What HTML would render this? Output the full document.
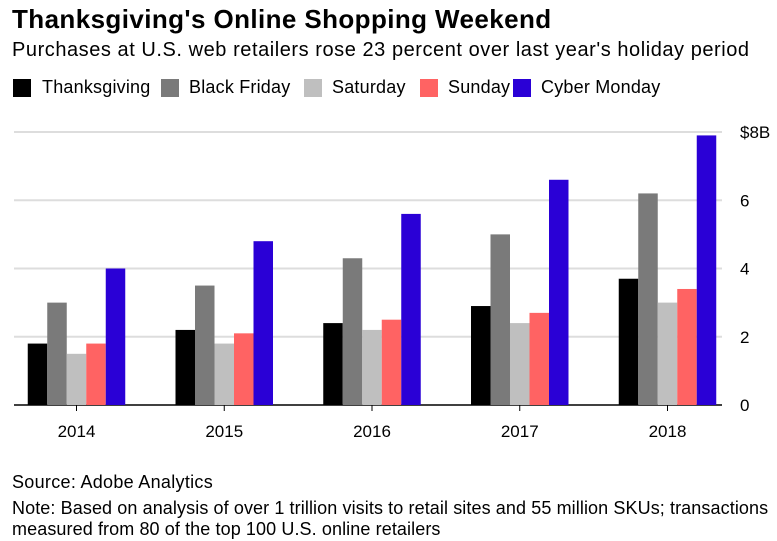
<!DOCTYPE html>
<html><head><meta charset="utf-8"><style>
body{margin:0;width:777px;height:541px;background:#fff;font-family:"Liberation Sans",sans-serif;color:#000;position:relative;overflow:hidden}
.t{position:absolute;white-space:nowrap}
.lg{font-size:18px;letter-spacing:0.2px}
</style></head><body>
<div class="t" style="left:12px;top:4px;font-size:26px;font-weight:bold;letter-spacing:0.4px">Thanksgiving's Online Shopping Weekend</div>
<div class="t" style="left:12px;top:39px;font-size:20px;letter-spacing:0.55px">Purchases at U.S. web retailers rose 23 percent over last year's holiday period</div>
<div>
<div><div class="t" style="left:13px;top:79px;width:18px;height:18px;background:#000"></div><div class="t lg" style="left:42px;top:77px">Thanksgiving</div></div>
<div><div class="t" style="left:161px;top:79px;width:18px;height:18px;background:#7a7a7a"></div><div class="t lg" style="left:189px;top:77px">Black Friday</div></div>
<div><div class="t" style="left:304px;top:79px;width:18px;height:18px;background:#bfbfbf"></div><div class="t lg" style="left:332px;top:77px">Saturday</div></div>
<div><div class="t" style="left:420px;top:79px;width:18px;height:18px;background:#ff6363"></div><div class="t lg" style="left:448px;top:77px">Sunday</div></div>
<div><div class="t" style="left:513px;top:79px;width:18px;height:18px;background:#2a00d6"></div><div class="t lg" style="left:541px;top:77px">Cyber Monday</div></div>
</div>
<svg id="chart" width="777" height="541" style="position:absolute;left:0;top:0"></svg>
<div class="t" style="left:12px;top:472px;font-size:18px;letter-spacing:0.3px">Source: Adobe Analytics</div>
<div class="t" style="left:12px;top:498px;font-size:18px;letter-spacing:0.1px;line-height:21px">Note: Based on analysis of over 1 trillion visits to retail sites and 55 million SKUs; transactions<br>measured from 80 of the top 100 U.S. online retailers</div>
<script>
const years=["2014","2015","2016","2017","2018"];
const thanksgiving=[1.8,2.2,2.4,2.9,3.7];
const blackFriday=[3.0,3.5,4.3,5.0,6.2];
const saturday=[1.5,1.8,2.2,2.4,3.0];
const sunday=[1.8,2.1,2.5,2.7,3.4];
const cyberMonday=[4.0,4.8,5.6,6.6,7.9];
const yTicks=[0,2,4,6,8];
const yTickLabels=["0","2","4","6","$8B"];
const series=[thanksgiving,blackFriday,saturday,sunday,cyberMonday];
const seriesNames=["thanksgiving","black-friday","saturday","sunday","cyber-monday"];
const colors=["#000","#7a7a7a","#bfbfbf","#ff6363","#2a00d6"];
const NS="http://www.w3.org/2000/svg";
const svg=document.getElementById("chart");
const y=v=>405-v*(273/8);
const x0=14,x1=722,barW=19.5;
const xc=i=>76.5+147.75*i;
function mk(t,a){const e=document.createElementNS(NS,t);for(const k in a)e.setAttribute(k,a[k]);svg.appendChild(e);return e;}
yTicks.forEach((v,i)=>{
 const l=mk("line",{x1:x0,x2:x1,y1:y(v),y2:y(v),stroke:v===0?"#000":"#ddd","stroke-width":v===0?1.5:2});
 
 
 const t=mk("text",{x:740,y:y(v)+6,"font-size":17,"font-family":"Liberation Sans, sans-serif"});
 t.textContent=yTickLabels[i];
 
 
});
years.forEach((yr,i)=>{
 series.forEach((s,j)=>{
  const bx=xc(i)-barW*2.5+j*barW;
  const r=mk("rect",{x:bx,y:y(s[i]),width:barW,height:405-y(s[i]),fill:colors[j]});
  
  
 });
 const tk=mk("line",{x1:xc(i),x2:xc(i),y1:405,y2:411,stroke:"#000","stroke-width":1});
 
 
 const t=mk("text",{x:xc(i),y:437,"font-size":17,"text-anchor":"middle","font-family":"Liberation Sans, sans-serif"});
 t.textContent=yr;
 
 
});
</script>
</body></html>
